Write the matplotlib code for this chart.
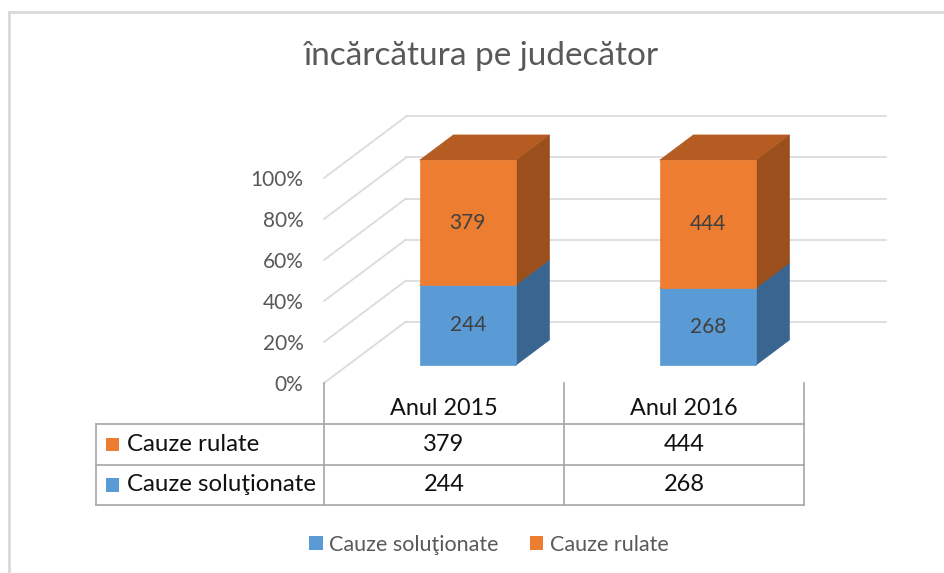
import matplotlib.pyplot as plt
from matplotlib.patches import Polygon, Rectangle, Patch
from matplotlib.lines import Line2D

plt.rcParams['font.family'] = ['Lato', 'DejaVu Sans']

ani = ["Anul 2015", "Anul 2016"]
solutionate = [244, 268]
rulate = [379, 444]
serii = ["Cauze soluţionate", "Cauze rulate"]
procente = [0, 20, 40, 60, 80, 100]

albastru = ["#5B9BD5", "#3A6590", "#41719C"]   # fata, lateral, sus
portocaliu = ["#ED7D31", "#9A4F1D", "#B45C22"]
gri_grid = "#D9D9D9"
gri_text = "#595959"

W, H = 945, 573
fig = plt.figure(figsize=(W / 100, H / 100), dpi=100)

# planul din fata al cutiei 3d, in pixeli
x0, x1, yjos, ysus = 324, 804, 383, 178
ax = fig.add_axes([x0 / W, 1 - yjos / H, (x1 - x0) / W, (yjos - ysus) / H])
ax.set_xlim(0, 2)
ax.set_ylim(0, 1)
ax.axis("off")

dx, dy = 82 / 240, 61.5 / 205   # adancimea completa
d0, d1 = 0.29, 0.70             # adancimea barelor
lat = 0.4                       # latimea barelor

# pereti: liniile de grila
for p in procente:
    y = p / 100
    ax.plot([dx, 2 + dx], [y + dy, y + dy], color=gri_grid, lw=1.2, clip_on=False, zorder=1)
    ax.plot([0, dx], [y, y + dy], color=gri_grid, lw=1.2, clip_on=False, zorder=1)
    ax.text(-0.085, y - 0.012, f"{p}%", ha="right", va="center", fontsize=15, color=gri_text)


def cutie(xl, xr, yb, yt, culori, z):
    fata = [(xl + d0 * dx, yb + d0 * dy), (xr + d0 * dx, yb + d0 * dy),
            (xr + d0 * dx, yt + d0 * dy), (xl + d0 * dx, yt + d0 * dy)]
    lateral = [(xr + d0 * dx, yb + d0 * dy), (xr + d1 * dx, yb + d1 * dy),
               (xr + d1 * dx, yt + d1 * dy), (xr + d0 * dx, yt + d0 * dy)]
    sus = [(xl + d0 * dx, yt + d0 * dy), (xr + d0 * dx, yt + d0 * dy),
           (xr + d1 * dx, yt + d1 * dy), (xl + d1 * dx, yt + d1 * dy)]
    for pts, c in [(lateral, culori[1]), (sus, culori[2]), (fata, culori[0])]:
        ax.add_patch(Polygon(pts, closed=True, facecolor=c, edgecolor=c, lw=0.5,
                             clip_on=False, zorder=z))
    return (xl + xr) / 2 + d0 * dx, (yb + yt) / 2 + d0 * dy


for i in range(len(ani)):
    total = solutionate[i] + rulate[i]
    f = solutionate[i] / total
    xl, xr = i + 0.5 - lat / 2, i + 0.5 + lat / 2
    cx, cy = cutie(xl, xr, 0, f, albastru, 2)
    ax.text(cx, cy, str(solutionate[i]), ha="center", va="center", fontsize=15, color="#404040", zorder=5)
    cx, cy = cutie(xl, xr, f, 1, portocaliu, 3)
    ax.text(cx, cy, str(rulate[i]), ha="center", va="center", fontsize=15, color="#404040", zorder=5)

# tabelul de date
rh = 0.199
xst = -0.95
lin = dict(color="#A6A6A6", lw=1.2, clip_on=False)
for k in [1, 2, 3]:
    ax.plot([xst, 2], [-k * rh, -k * rh], **lin)
for xv in [0, 1, 2]:
    ax.plot([xv, xv], [0, -3 * rh], **lin)
ax.plot([xst, xst], [-rh, -3 * rh], **lin)

for i, an in enumerate(ani):
    ax.text(i + 0.5, -0.122, an, ha="center", va="center", fontsize=16.8, color="#111111")

randuri = [(serii[1], rulate, portocaliu[0]), (serii[0], solutionate, albastru[0])]
for k, (nume, vals, c) in enumerate(randuri):
    yc = -(k + 1.5) * rh
    ax.add_patch(Rectangle((-0.908, yc - 0.032), 0.054, 0.064, facecolor=c, edgecolor="none", clip_on=False))
    ax.text(-0.821, yc, nume, ha="left", va="center", fontsize=17.3, color="#111111")
    for i, v in enumerate(vals):
        ax.text(i + 0.5, yc, str(v), ha="center", va="center", fontsize=17, color="#111111")

# legenda
handles = [Patch(facecolor=albastru[0]), Patch(facecolor=portocaliu[0])]
fig.legend(handles, serii, loc="center", bbox_to_anchor=(489 / W, 1 - 545 / H), ncol=2,
           frameon=False, fontsize=15.5, labelcolor=gri_text, handlelength=0.62, handleheight=0.62,
           handletextpad=0.3, columnspacing=1.45)

fig.text(481 / W, 1 - 56 / H, "încărcătura pe judecător", ha="center", va="center",
         fontsize=24, color=gri_text)

# chenarul graficului
fig.add_artist(Line2D([9 / W, 9 / W], [0, 1 - 12 / H], color=gri_grid, lw=2))
fig.add_artist(Line2D([9 / W, 1], [1 - 12 / H, 1 - 12 / H], color=gri_grid, lw=2))

fig.savefig("out.png", dpi=100)
